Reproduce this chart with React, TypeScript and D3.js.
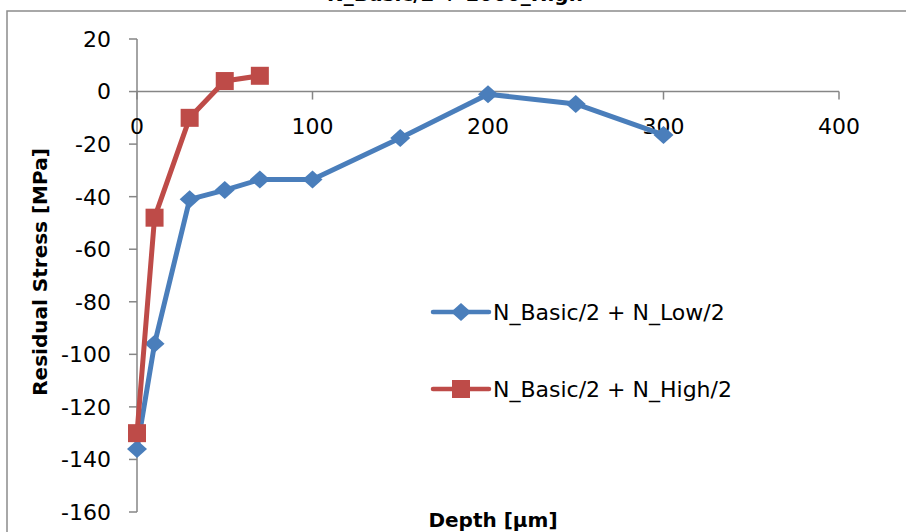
import React from "react";
import * as d3 from "d3";

// Depth [µm] sample positions and residual stress [MPa] per series
const depthLow = [0, 10, 30, 50, 70, 100, 150, 200, 250, 300];
const stressLow = [-136, -96, -41, -37.5, -33.5, -33.5, -17.7, -1, -4.7, -16.5];
const depthHigh = [0, 10, 30, 50, 70];
const stressHigh = [-130, -48, -10, 4, 6];

const seriesNames = ["N_Basic/2 + N_Low/2", "N_Basic/2 + N_High/2"];
const seriesColors = ["#4A7EBB", "#BE4B48"];

const xTicks = [0, 100, 200, 300, 400];
const yTicks = [20, 0, -20, -40, -60, -80, -100, -120, -140, -160];

const chartTitle = "N_Basic/2 + 1000_High";
const xTitle = "Depth [µm]";
const yTitle = "Residual Stress [MPa]";

const W = 906;
const H = 532;
const FONT = "'DejaVu Sans', sans-serif";

export default function App() {
  const x = d3.scaleLinear().domain([0, 400]).range([137, 839]);
  const y = d3.scaleLinear().domain([20, -160]).range([39, 512]);

  const line = d3
    .line<[number, number]>()
    .x((d) => x(d[0]))
    .y((d) => y(d[1]));

  const low: [number, number][] = depthLow.map((d, i) => [d, stressLow[i]]);
  const high: [number, number][] = depthHigh.map((d, i) => [d, stressHigh[i]]);

  const diamond = (cx: number, cy: number, key: React.Key) => (
    <path
      key={key}
      d={`M${cx},${cy - 9}L${cx + 10},${cy}L${cx},${cy + 9}L${cx - 10},${cy}Z`}
      fill={seriesColors[0]}
    />
  );
  const square = (cx: number, cy: number, key: React.Key) => (
    <rect key={key} x={cx - 9} y={cy - 9} width={18} height={18} fill={seriesColors[1]} />
  );

  const axisColor = "#868686";
  const y0 = y(0);

  return (
    <svg
      width={W}
      height={H}
      style={{ position: "absolute", left: 0, top: 0, background: "#fff" }}
      fontFamily={FONT}
    >
      <rect x={0} y={0} width={W} height={H} fill="#fff" />
      {/* chart frame */}
      <rect x={7} y={11} width={W + 50} height={H + 50} fill="none" stroke="#8c8c8c" strokeWidth={1.5} />

      <text x={455} y={1} textAnchor="middle" fontWeight="bold" fontSize={20}>
        {chartTitle}
      </text>

      {/* y axis */}
      <line x1={x(0)} x2={x(0)} y1={y(20)} y2={y(-160)} stroke={axisColor} strokeWidth={1.5} />
      {yTicks.map((t) => (
        <g key={`y${t}`}>
          <line x1={x(0) - 8} x2={x(0)} y1={y(t)} y2={y(t)} stroke={axisColor} strokeWidth={1.5} />
          <text x={111} y={y(t)} dy="0.36em" textAnchor="end" fontSize={22}>
            {t}
          </text>
        </g>
      ))}

      {/* x axis crossing at zero stress */}
      <line x1={x(0)} x2={x(400)} y1={y0} y2={y0} stroke={axisColor} strokeWidth={1.5} />
      {xTicks.map((t) => (
        <g key={`x${t}`}>
          <line x1={x(t)} x2={x(t)} y1={y0} y2={y0 + 8} stroke={axisColor} strokeWidth={1.5} />
          <text x={x(t)} y={134} textAnchor="middle" fontSize={22}>
            {t}
          </text>
        </g>
      ))}

      <text
        transform={`translate(47,${272}) rotate(-90)`}
        textAnchor="middle"
        fontWeight="bold"
        fontSize={20}
      >
        {yTitle}
      </text>
      <text x={493} y={527} textAnchor="middle" fontWeight="bold" fontSize={20}>
        {xTitle}
      </text>

      {/* series */}
      <path d={line(low) || ""} fill="none" stroke={seriesColors[0]} strokeWidth={5} strokeLinejoin="round" />
      {low.map((d, i) => diamond(x(d[0]), y(d[1]), `l${i}`))}
      <path d={line(high) || ""} fill="none" stroke={seriesColors[1]} strokeWidth={5} strokeLinejoin="round" />
      {high.map((d, i) => square(x(d[0]), y(d[1]), `h${i}`))}

      {/* legend */}
      {seriesNames.map((name, i) => {
        const ly = i === 0 ? 312 : 389;
        return (
          <g key={name}>
            <line x1={433} x2={489} y1={ly} y2={ly} stroke={seriesColors[i]} strokeWidth={4.5} strokeLinecap="round" />
            {i === 0 ? diamond(461, ly, "ld") : square(461, ly, "ls")}
            <text x={493} y={ly} dy="0.36em" fontSize={22}>
              {name}
            </text>
          </g>
        );
      })}
    </svg>
  );
}
